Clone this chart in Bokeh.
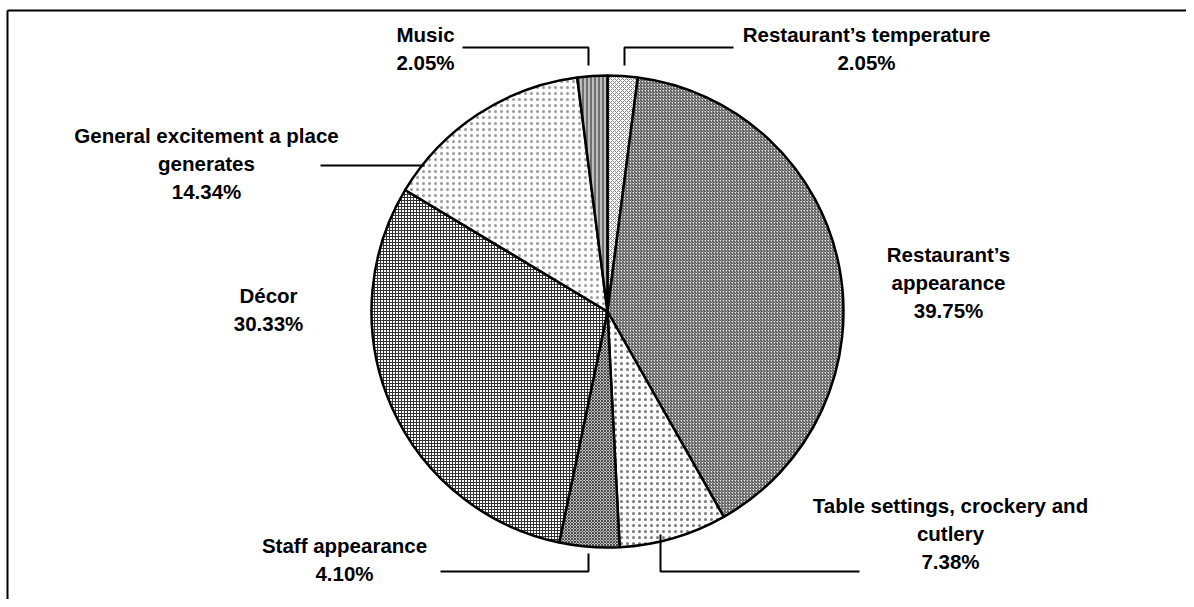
import math
from bokeh.plotting import figure
from bokeh.models import Range1d
from bokeh.core.properties import value
from bokeh.embed import file_html
from bokeh.resources import INLINE

# ---- data ----
categories = [
    "Restaurant\u2019s temperature",
    "Restaurant\u2019s appearance",
    "Table settings, crockery and cutlery",
    "Staff appearance",
    "D\u00e9cor",
    "General excitement a place generates",
    "Music",
]
shares = [2.05, 39.75, 7.38, 4.10, 30.33, 14.34, 2.05]
label_texts = [
    "Restaurant\u2019s temperature\n2.05%",
    "Restaurant\u2019s\nappearance\n39.75%",
    "Table settings, crockery and\ncutlery\n7.38%",
    "Staff appearance\n4.10%",
    "D\u00e9cor\n30.33%",
    "General excitement a place\ngenerates\n14.34%",
    "Music\n2.05%",
]

# ---- layout (screen pixels) ----
W, H = 1186, 599


def sx(x):
    return x


def sy(y):
    return H - y


CX, CY, R = 607, 311, 236

label_pos = [(866, 48), (948, 282), (950, 533), (344, 559), (268, 309), (206, 163), (425, 48)]
leaders = [
    [(733, 47), (624, 47), (624, 65)],
    None,
    [(660, 534), (660, 571), (859, 571)],
    [(440, 571), (588, 571), (588, 553)],
    None,
    [(320, 165), (424, 165)],
    [(462, 47), (588, 47), (588, 65)],
]

styles = [
    dict(fill_color="white", hatch_pattern="diagonal_cross", hatch_scale=4, hatch_weight=1, hatch_color="#888888"),
    dict(fill_color="#e6e6e6", hatch_pattern="right_diagonal_line", hatch_scale=3, hatch_weight=1.0, hatch_color="#333333"),
    dict(fill_color="white", hatch_pattern="dot", hatch_scale=6, hatch_weight=1.5, hatch_color="#777777"),
    dict(fill_color="white", hatch_pattern="diagonal_cross", hatch_scale=3, hatch_weight=1.2, hatch_color="#444444"),
    dict(fill_color="white", hatch_pattern="cross", hatch_scale=3, hatch_weight=1, hatch_color="#333333"),
    dict(fill_color="white", hatch_pattern="dot", hatch_scale=6, hatch_weight=2.5, hatch_color="#9a9a9a"),
    dict(fill_color="#bdbdbd", hatch_pattern="vertical_line", hatch_scale=4, hatch_weight=1, hatch_color="#222222"),
]

p = figure(width=W, height=H, output_backend="svg", toolbar_location=None,
           x_range=Range1d(0, W), y_range=Range1d(0, H), min_border=0)
p.axis.visible = False
p.grid.visible = False
p.outline_line_color = None
p.background_fill_color = "white"

total = sum(shares)
cum = 0.0
for i, v in enumerate(shares):
    a0 = math.pi / 2 - 2 * math.pi * cum / total
    cum += v
    a1 = math.pi / 2 - 2 * math.pi * cum / total
    p.wedge(x=[sx(CX)], y=[sy(CY)], radius=R, start_angle=a0, end_angle=a1,
            direction="clock", line_color="black", line_width=2.5, **styles[i])

# frame border (left and top visible)
p.line(x=[7, 7], y=[0, sy(10)], line_color="black", line_width=2)
p.line(x=[7, W], y=[sy(10), sy(10)], line_color="black", line_width=2)

for path in leaders:
    if path:
        p.line(x=[sx(a) for a, b in path], y=[sy(b) for a, b in path], line_color="black", line_width=2)

p.text(x=[sx(a) for a, b in label_pos], y=[sy(b) for a, b in label_pos], text=label_texts,
       text_font=value("Liberation Sans"), text_font_style="bold", text_font_size="20.5px",
       text_align="center", text_baseline="middle", text_line_height=1.21, text_color="black")

open("out.html", "w").write(file_html(p, INLINE))
